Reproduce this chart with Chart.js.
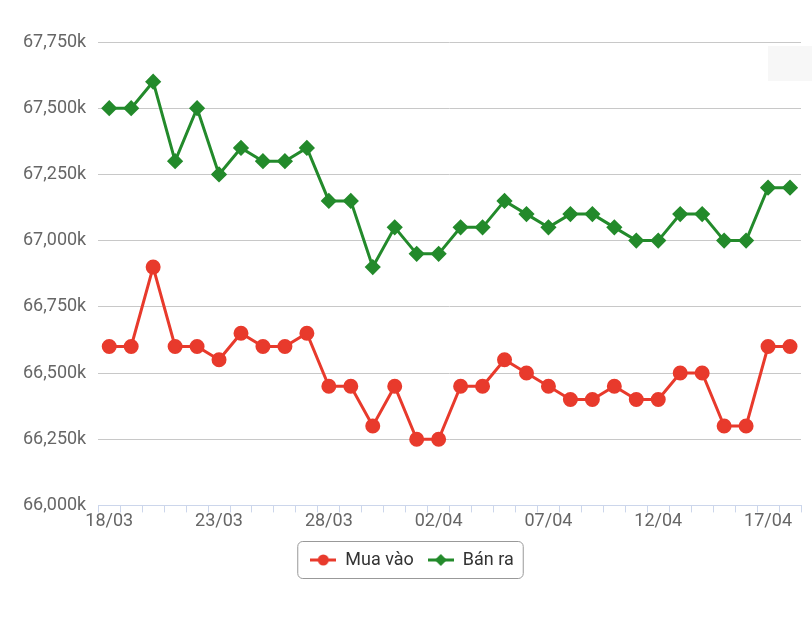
<!DOCTYPE html>
<html>
<head>
<meta charset="utf-8">
<script src="https://cdn.jsdelivr.net/npm/chart.js@4.4.1/dist/chart.umd.min.js"></script>
<style>
  html, body { margin: 0; padding: 0; background: #fff; }
  #wrap { width: 812px; height: 617px; }
</style>
</head>
<body>
<div id="wrap"><canvas id="chart" width="812" height="617"></canvas></div>
<script>
// Dates 18/03 -> 18/04
const dates = [
  '18/03', '19/03', '20/03', '21/03', '22/03', '23/03', '24/03', '25/03',
  '26/03', '27/03', '28/03', '29/03', '30/03', '31/03', '01/04', '02/04',
  '03/04', '04/04', '05/04', '06/04', '07/04', '08/04', '09/04', '10/04',
  '11/04', '12/04', '13/04', '14/04', '15/04', '16/04', '17/04', '18/04',
]

const buyPrices = [
  66600, 66600, 66900, 66600, 66600, 66550, 66650, 66600,
  66600, 66650, 66450, 66450, 66300, 66450, 66250, 66250,
  66450, 66450, 66550, 66500, 66450, 66400, 66400, 66450,
  66400, 66400, 66500, 66500, 66300, 66300, 66600, 66600,
]

const sellPrices = [
  67500, 67500, 67600, 67300, 67500, 67250, 67350, 67300,
  67300, 67350, 67150, 67150, 66900, 67050, 66950, 66950,
  67050, 67050, 67150, 67100, 67050, 67100, 67100, 67050,
  67000, 67000, 67100, 67100, 67000, 67000, 67200, 67200,
]

const seriesNames = ['Mua vào', 'Bán ra']
const yMin = 66000
const yMax = 67750
const yStep = 250

const RED = '#e83a2c'
const GREEN = '#238a2b'
const FONT = 'Roboto, "Noto Sans", Arial, sans-serif'

// small legend symbol: line with marker in the middle
function legendSymbol(color, shape) {
  const c = document.createElement('canvas')
  c.width = 26
  c.height = 14
  const ctx = c.getContext('2d')
  ctx.strokeStyle = color
  ctx.fillStyle = color
  ctx.lineWidth = 3
  ctx.beginPath()
  ctx.moveTo(0, 7)
  ctx.lineTo(26, 7)
  ctx.stroke()
  ctx.beginPath()
  if (shape === 'circle') {
    ctx.arc(13, 7, 5.5, 0, Math.PI * 2)
  } else {
    ctx.moveTo(13, 1)
    ctx.lineTo(19, 7)
    ctx.lineTo(13, 13)
    ctx.lineTo(7, 7)
    ctx.closePath()
  }
  ctx.fill()
  return c
}

const legendIcons = [legendSymbol(RED, 'circle'), legendSymbol(GREEN, 'diamond')]

// nudge legend a bit right and draw the rounded frame around it
const legendBorder = {
  id: 'legendBorder',
  afterLayout(chart) {
    if (!chart.legend) return
    chart.legend.left += 6
    chart.legend.right += 6
  },
  beforeDraw(chart) {
    // faint export-button background, top right
    const { ctx } = chart
    ctx.save()
    ctx.fillStyle = '#f7f7f7'
    ctx.fillRect(chart.chartArea.right - 33, 46, 44, 35)
    ctx.restore()
  },
  afterDraw(chart) {
    const boxes = chart.legend && chart.legend.legendHitBoxes
    if (!boxes || !boxes.length) return
    const left = Math.min(...boxes.map((b) => b.left))
    const right = Math.max(...boxes.map((b) => b.left + b.width))
    const mid = boxes[0].top + boxes[0].height / 2
    const { ctx } = chart
    ctx.save()
    ctx.strokeStyle = '#999'
    ctx.lineWidth = 1
    ctx.beginPath()
    ctx.roundRect(left - 12.5, mid - 18.5, right - left + 22, 37, 5)
    ctx.stroke()
    ctx.restore()
  },
}

new Chart(document.getElementById('chart'), {
  type: 'line',
  data: {
    labels: dates,
    datasets: [
      {
        label: seriesNames[0],
        data: buyPrices,
        borderColor: RED,
        backgroundColor: RED,
        borderWidth: 3,
        pointStyle: 'circle',
        pointRadius: 6,
        pointHoverRadius: 6,
        tension: 0,
      },
      {
        label: seriesNames[1],
        data: sellPrices,
        borderColor: GREEN,
        backgroundColor: GREEN,
        borderWidth: 3,
        pointStyle: 'rectRot',
        pointRadius: 6,
        pointHoverRadius: 6,
        tension: 0,
      },
    ],
  },
  options: {
    responsive: false,
    animation: false,
    layout: {
      padding: { left: 11, right: 11, top: 42, bottom: 38 },
    },
    scales: {
      x: {
        offset: true,
        afterFit: (scale) => {
          scale.height += 7
        },
        grid: {
          drawOnChartArea: false,
          drawTicks: true,
          tickLength: 7,
          color: '#ccd6eb',
          offset: true,
        },
        border: { display: true, color: '#ccd6eb', width: 1 },
        ticks: {
          autoSkip: false,
          maxRotation: 0,
          padding: -2,
          color: '#666',
          font: { family: FONT, size: 18 },
          callback: (val, i) => (i % 5 === 0 ? dates[i] : ''),
        },
      },
      y: {
        min: yMin,
        max: yMax,
        grid: {
          color: '#c8c8c8',
          drawTicks: false,
          lineWidth: 1,
        },
        border: { display: false },
        ticks: {
          stepSize: yStep,
          padding: 12,
          color: '#666',
          font: { family: FONT, size: 18 },
          callback: (val) => val.toLocaleString('en-US') + 'k',
        },
      },
    },
    plugins: {
      legend: {
        position: 'bottom',
        labels: {
          usePointStyle: true,
          pointStyleWidth: 26,
          padding: 14,
          color: '#333',
          font: { family: FONT, size: 18 },
          generateLabels: (chart) =>
            chart.data.datasets.map((ds, i) => ({
              text: ds.label,
              fillStyle: ds.borderColor,
              strokeStyle: ds.borderColor,
              pointStyle: legendIcons[i],
              datasetIndex: i,
              hidden: false,
              lineWidth: 0,
              fontColor: '#333',
            })),
        },
      },
      tooltip: { enabled: false },
    },
  },
  plugins: [legendBorder],
})
</script>
</body>
</html>
